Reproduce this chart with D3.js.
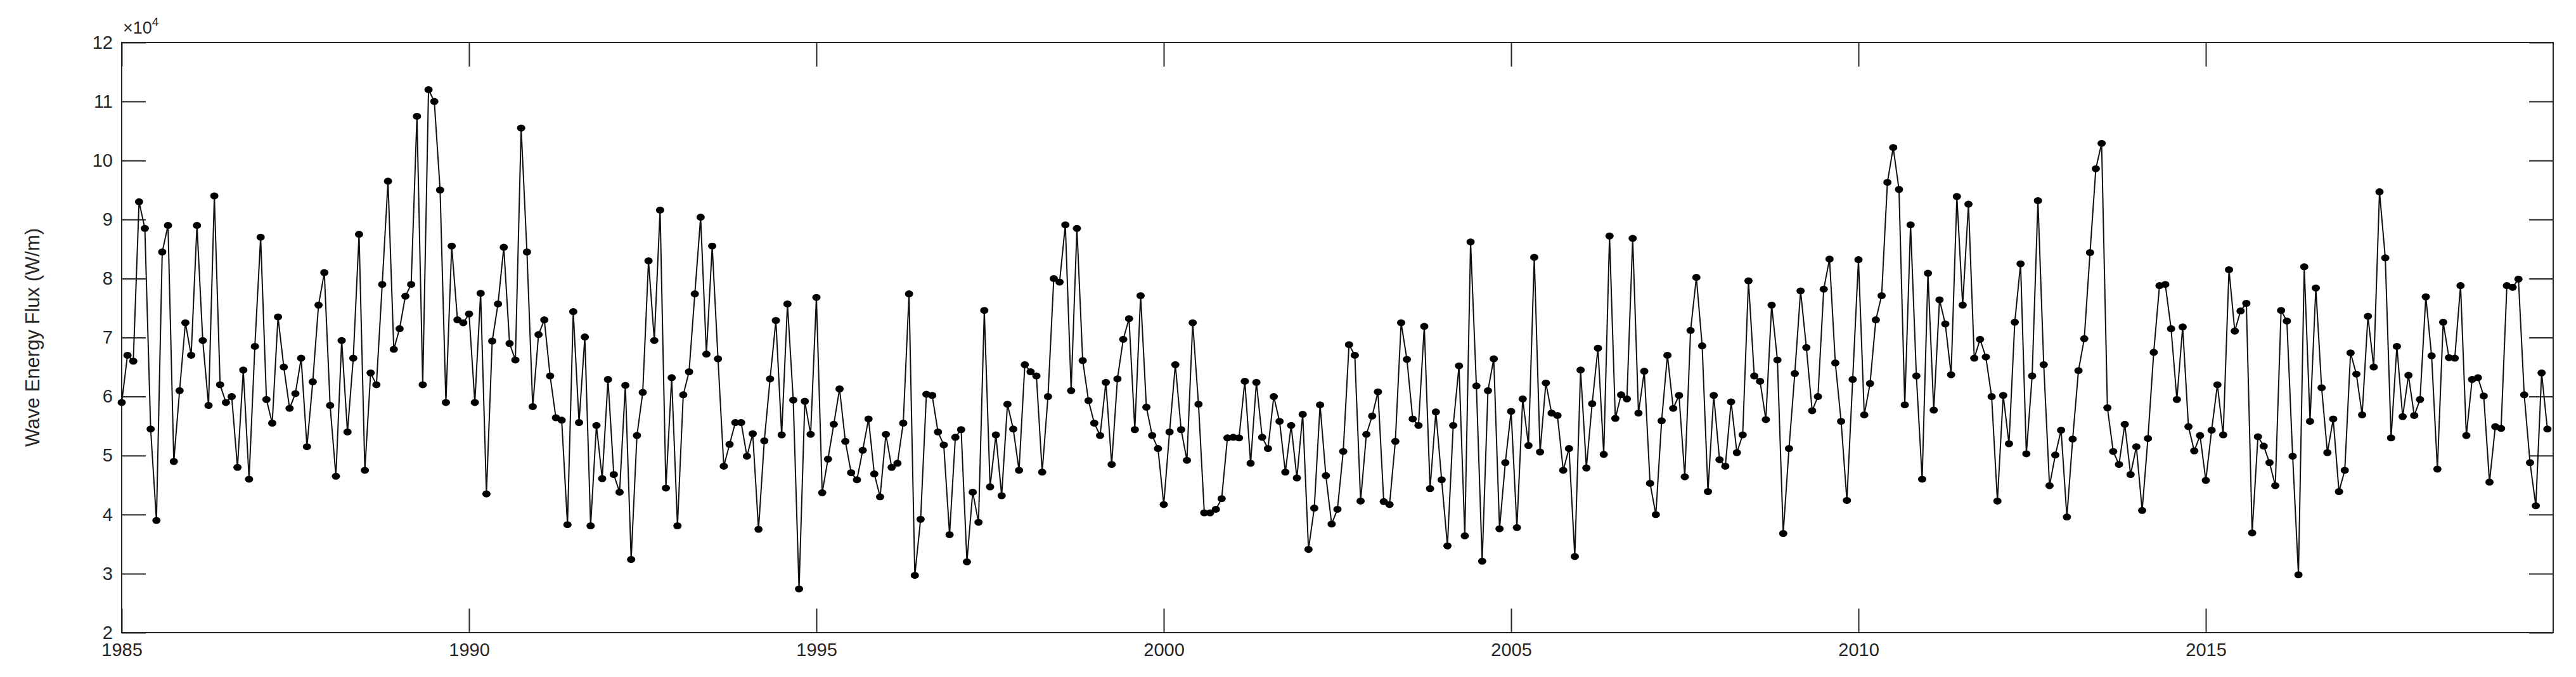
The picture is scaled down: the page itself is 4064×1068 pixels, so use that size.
<!DOCTYPE html>
<html>
<head>
<meta charset="utf-8">
<script src="https://cdn.jsdelivr.net/npm/d3@7"></script>
<style>
  body { margin: 0; background: #fff; }
  svg { display: block; font-family: "Liberation Sans", Arial, sans-serif; }
</style>
</head>
<body>
<svg id="chart" width="4064" height="1068"></svg>
<script>
// monthly wave energy flux, Jan 1985 onward (units of 1e4 W/m)
const startYear = 1985;
const fluxValues = [
  5.9,6.7,6.6,9.3,8.85,5.45,3.9,8.45,8.9,4.9,
  6.1,7.25,6.7,8.9,6.95,5.85,9.4,6.2,5.9,6.0,
  4.8,6.45,4.6,6.85,8.7,5.95,5.55,7.35,6.5,5.8,
  6.05,6.65,5.15,6.25,7.55,8.1,5.85,4.65,6.95,5.4,
  6.65,8.75,4.75,6.4,6.2,7.9,9.65,6.8,7.15,7.7,
  7.9,10.75,6.2,11.2,11.0,9.5,5.9,8.55,7.3,7.25,
  7.4,5.9,7.75,4.35,
  6.94,7.57,8.53,6.9,6.62,10.55,8.45,5.83,7.05,7.3,
  6.35,5.64,5.6,3.83,7.44,5.56,7.01,3.81,5.51,4.61,
  6.29,4.68,4.38,6.19,3.24,5.34,6.07,8.3,6.95,9.16,
  4.45,6.32,3.81,6.03,6.42,7.74,9.04,6.72,8.55,6.64,
  4.82,5.19,5.56,5.56,4.99,5.37,3.75,5.25,6.3,7.29,
  5.35,7.57,5.94,2.74,5.92,5.36,7.68,4.37,4.94,5.53,
  6.13,5.24,4.71,4.59,5.09,5.62,4.69,4.3,5.36,4.8,
  4.87,5.55,7.74,2.97,
  3.92,6.04,6.02,5.4,5.18,3.66,5.31,5.44,3.2,4.38,
  3.87,7.46,4.47,5.35,4.32,5.87,5.45,4.75,6.54,6.42,
  6.35,4.72,6.0,8.0,7.94,8.91,6.1,8.85,6.61,5.93,
  5.55,5.34,6.24,4.85,6.3,6.97,7.32,5.44,7.71,5.82,
  5.34,5.12,4.17,5.4,6.54,5.44,4.92,7.25,5.87,4.03,
  4.03,4.09,4.27,5.3,5.31,5.3,6.26,4.87,6.24,5.31,
  5.12,6.0,5.58,4.72,5.51,4.62,5.7,3.41,4.11,5.86,
  4.66,3.84,4.09,5.07,6.88,6.7,4.23,5.36,5.67,6.08,
  4.22,4.17,5.24,7.25,6.63,5.62,5.51,7.19,4.44,5.74,
  4.59,3.47,5.51,6.52,3.64,8.62,6.18,3.21,6.1,6.64,
  3.76,4.88,5.75,3.78,5.96,5.17,8.36,5.06,6.23,5.72,
  5.68,4.75,5.12,3.29,6.45,4.79,5.88,6.82,5.02,8.72,
  5.63,6.03,5.96,8.68,5.72,6.43,4.53,4.0,5.59,6.7,
  5.8,6.02,4.64,7.12,8.02,6.86,4.39,6.02,4.93,4.82,
  5.91,5.05,5.35,7.96,6.35,6.26,5.61,7.55,6.62,3.68,
  5.12,6.39,7.79,6.83,5.76,6.0,7.82,8.33,6.57,5.58,
  4.24,6.29,8.32,5.69,6.22,7.3,7.71,9.63,10.22,9.51,
  5.86,8.91,6.35,4.6,8.09,5.77,7.64,7.23,6.37,9.39,
  7.55,9.26,6.65,6.97,6.67,6.0,4.23,6.02,5.2,7.26,
  8.25,5.03,6.35,9.32,6.54,4.49,5.01,5.43,3.96,5.28,
  6.44,6.98,8.44,9.86,10.29,5.81,5.07,4.85,5.53,4.68,
  5.15,4.07,5.29,6.75,
  7.88,7.9,7.15,5.95,7.18,5.49,5.08,5.34,4.58,5.43,
  6.2,5.35,8.15,7.11,7.45,7.58,3.69,5.32,5.16,4.88,
  4.49,7.46,7.28,4.99,2.98,8.2,5.58,7.84,6.15,5.05,
  5.62,4.39,4.75,6.74,6.38,5.69,7.36,6.5,9.47,8.35,
  5.3,6.85,5.66,6.36,5.68,5.95,7.69,6.69,4.77,7.26,
  6.66,6.65,7.88,5.34,6.29,6.32,6.01,4.55,5.49,5.46,
  7.88,7.85,7.99,6.03,4.88,4.15,6.4,5.45
].map(v => v * 1e4);
const xTicks = [1985, 1990, 1995, 2000, 2005, 2010, 2015];
const yTicks = [2, 3, 4, 5, 6, 7, 8, 9, 10, 11, 12];

const data = fluxValues.map((v, i) => ({ t: startYear + i / 12, v }));

const m = { left: 192, right: 36, top: 67, bottom: 70 };
const W = 4064, H = 1068;
const svg = d3.select('#chart');
const ink = '#262626';

const x = d3.scaleLinear().domain([1985, 2020]).range([m.left, W - m.right]);
const y = d3.scaleLinear().domain([2e4, 12e4]).range([H - m.bottom, m.top]);

const tickLen = 38;

// frame
svg.append('rect')
  .attr('x', m.left).attr('y', m.top)
  .attr('width', W - m.right - m.left).attr('height', H - m.bottom - m.top)
  .attr('fill', 'none').attr('stroke', ink).attr('stroke-width', 2);

// x axis bottom and top (inward ticks)
const xb = svg.append('g').attr('transform', `translate(0,${H - m.bottom})`)
  .call(d3.axisBottom(x).tickValues(xTicks).tickFormat(d3.format('d')).tickSize(-tickLen).tickPadding(16));
const xt = svg.append('g').attr('transform', `translate(0,${m.top})`)
  .call(d3.axisTop(x).tickValues(xTicks).tickFormat('').tickSize(-tickLen));
const yl = svg.append('g').attr('transform', `translate(${m.left},0)`)
  .call(d3.axisLeft(y).tickValues(yTicks.map(d => d * 1e4)).tickFormat(d => d / 1e4).tickSize(-tickLen).tickPadding(14));
const yr = svg.append('g').attr('transform', `translate(${W - m.right},0)`)
  .call(d3.axisRight(y).tickValues(yTicks.map(d => d * 1e4)).tickFormat('').tickSize(-tickLen));

[xb, xt, yl, yr].forEach(g => {
  g.select('.domain').remove();
  g.selectAll('line').attr('stroke', ink).attr('stroke-width', 2);
  g.selectAll('text').attr('fill', ink).attr('font-size', 29);
});

// exponent label
const ex = svg.append('text').attr('x', m.left + 2).attr('y', m.top - 14)
  .attr('fill', ink).attr('font-size', 27);
ex.append('tspan').text('\u00d710');
ex.append('tspan').attr('dy', -12).attr('font-size', 19).text('4');

// y label
svg.append('text')
  .attr('transform', `translate(62,${(m.top + H - m.bottom) / 2}) rotate(-90)`)
  .attr('text-anchor', 'middle').attr('fill', ink).attr('font-size', 31)
  .text('Wave Energy Flux (W/m)');

// series
svg.append('path').datum(data)
  .attr('fill', 'none').attr('stroke', '#111').attr('stroke-width', 2)
  .attr('d', d3.line().x(d => x(d.t)).y(d => y(d.v)));

svg.selectAll('ellipse.pt').data(data).enter().append('ellipse')
  .attr('class', 'pt')
  .attr('cx', d => x(d.t)).attr('cy', d => y(d.v))
  .attr('rx', 6.5).attr('ry', 5.5)
  .attr('fill', '#000');
</script>
</body>
</html>
